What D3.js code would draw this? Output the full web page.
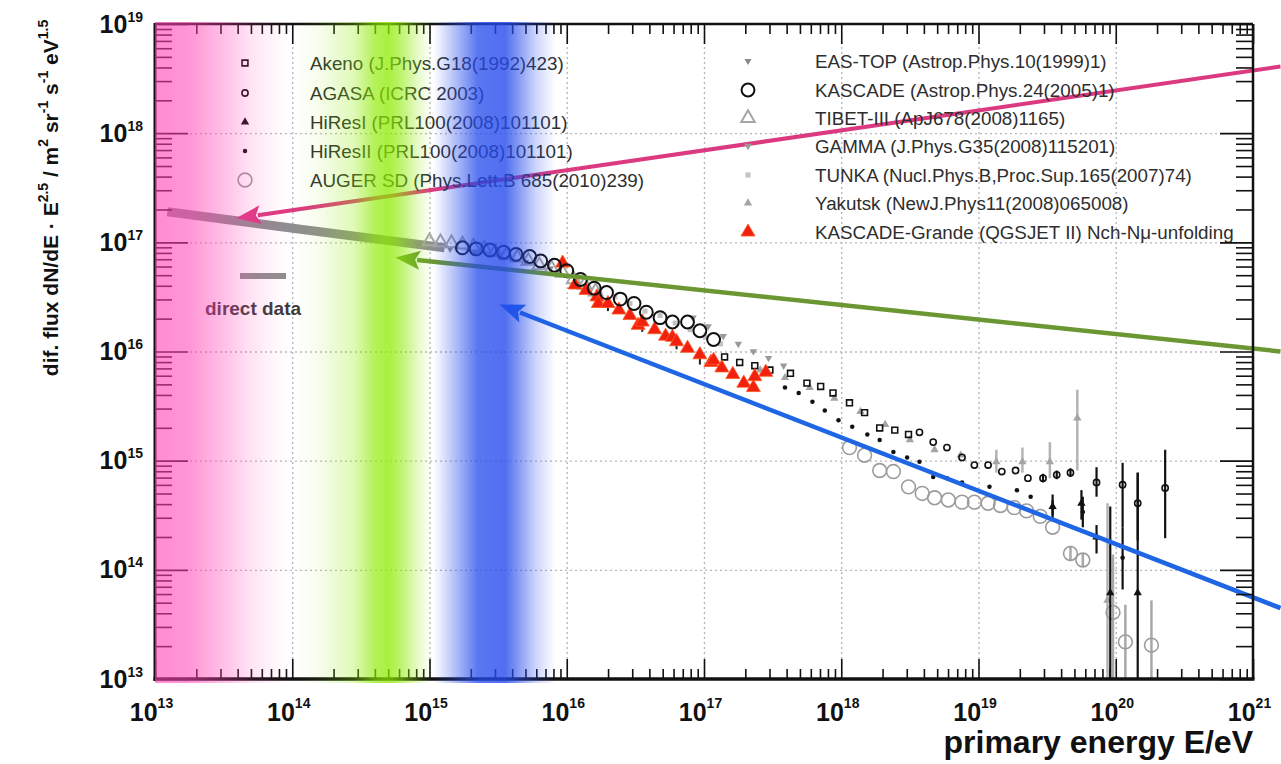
<!DOCTYPE html>
<html>
<head>
<meta charset="utf-8">
<script src="https://cdn.jsdelivr.net/npm/d3@7"></script>
<style>
  html, body { margin: 0; padding: 0; background: #fff; }
  svg { display: block; font-family: "Liberation Sans", Arial, Helvetica, sans-serif; }
</style>
</head>
<body>
<svg id="chart" width="1281" height="764"></svg>
<script>
// ---- axis ticks (decade exponents) ----
const xTickExp = [13, 14, 15, 16, 17, 18, 19, 20, 21];
const yTickExp = [13, 14, 15, 16, 17, 18, 19];

// ---- measurements: log10(E/eV) and log10(flux * E^2.5) ----
const akenoLgE = [17.15, 17.26, 17.37, 17.48, 17.63, 17.75, 17.85, 17.94, 18.06, 18.17, 18.28, 18.39, 18.49];
const akenoLgF = [15.95, 15.90, 15.87, 15.83, 15.80, 15.71, 15.68, 15.62, 15.53, 15.44, 15.30, 15.28, 15.24];

const agasaLgE = [18.57, 18.67, 18.77, 18.88, 18.97, 19.07, 19.17, 19.27, 19.36, 19.47, 19.57, 19.67, 19.86, 20.05, 20.16, 20.36];
const agasaLgF = [15.26, 15.17, 15.12, 15.03, 14.96, 14.96, 14.90, 14.91, 14.84, 14.84, 14.87, 14.89, 14.80, 14.78, 14.61, 14.75];
const agasaBarE  = [19.47, 19.57, 19.67, 19.86, 20.05, 20.16, 20.36];
const agasaBarLo = [14.80, 14.83, 14.85, 14.67, 14.39, 14.27, 14.29];
const agasaBarHi = [14.88, 14.91, 14.93, 14.94, 14.98, 14.89, 15.10];

const hires1LgE = [19.54, 19.75, 19.86, 19.96, 20.16];
const hires1LgF = [14.58, 14.61, 14.30, 13.79, 13.79];
const hires1BarE  = [19.54, 19.75, 19.86, 19.96, 20.16];
const hires1BarLo = [14.46, 14.46, 14.15, 13.0, 13.0];
const hires1BarHi = [14.69, 14.73, 14.41, 14.58, 14.89];

const hires2LgE = [17.59, 17.69, 17.79, 17.88, 17.98, 18.08, 18.19, 18.28, 18.38, 18.48, 18.57, 18.67, 18.77, 18.88, 19.08, 19.28, 19.38, 19.54, 19.76, 20.05];
const hires2LgF = [15.67, 15.62, 15.54, 15.46, 15.37, 15.31, 15.24, 15.19, 15.08, 15.03, 14.99, 14.85, 14.84, 14.80, 14.76, 14.73, 14.67, 14.57, 14.53, 14.11];
const hires2BarE  = [19.54, 19.76, 20.05];
const hires2BarLo = [14.50, 14.39, 13.82];
const hires2BarHi = [14.64, 14.67, 14.39];

const augerLgE = [18.06, 18.17, 18.28, 18.38, 18.49, 18.59, 18.68, 18.78, 18.88, 18.97, 19.07, 19.16, 19.26, 19.35, 19.45, 19.54, 19.67, 19.76, 19.98, 20.07, 20.26];
const augerLgF = [15.12, 15.05, 14.91, 14.90, 14.76, 14.70, 14.66, 14.64, 14.62, 14.62, 14.61, 14.59, 14.57, 14.54, 14.49, 14.39, 14.15, 14.09, 13.61, 13.34, 13.31];
const augerBarE  = [19.67, 19.76, 19.98, 20.07, 20.26];
const augerBarLo = [14.08, 14.03, 13.0, 13.0, 13.0];
const augerBarHi = [14.22, 14.15, 14.14, 13.68, 13.72];

const eastopLgE = [14.73, 14.82, 14.91, 15.15, 15.33, 15.51, 15.70, 15.88];
const eastopLgF = [17.01, 16.99, 16.98, 16.94, 16.91, 16.87, 16.82, 16.76];

const kascadeLgE = [15.24, 15.34, 15.44, 15.54, 15.63, 15.73, 15.81, 15.91, 16.00, 16.10, 16.20, 16.29, 16.39, 16.49, 16.58, 16.68, 16.77, 16.88, 16.97, 17.07];
const kascadeLgF = [16.95, 16.94, 16.93, 16.91, 16.89, 16.87, 16.83, 16.79, 16.74, 16.66, 16.58, 16.54, 16.48, 16.44, 16.36, 16.31, 16.27, 16.27, 16.19, 16.11];

const tibetLgE = [15.00, 15.08, 15.16, 15.24, 15.32, 15.40, 15.48, 15.56, 15.64, 15.72, 15.80, 15.89, 15.97, 16.05, 16.13, 16.21];
const tibetLgF = [17.01, 17.00, 16.99, 16.98, 16.96, 16.94, 16.91, 16.88, 16.86, 16.83, 16.79, 16.76, 16.72, 16.66, 16.61, 16.55];

const gammaLgE = [16.92, 17.03, 17.14, 17.25, 17.36, 17.47, 17.58];
const gammaLgF = [16.31, 16.23, 16.14, 16.07, 16.00, 15.94, 15.87];

const tunkaLgE = [16.24, 16.35, 16.46, 16.57, 16.68, 16.79, 16.90, 17.01, 17.12];
const tunkaLgF = [16.56, 16.50, 16.44, 16.37, 16.33, 16.26, 16.20, 16.13, 16.07];

const yakutskLgE = [17.41, 17.59, 17.77, 17.95, 18.14, 18.32, 18.50, 18.68, 18.87, 19.13, 19.32, 19.52, 19.72, 19.94];
const yakutskLgF = [15.83, 15.76, 15.67, 15.57, 15.45, 15.33, 15.19, 15.10, 15.05, 14.99, 14.99, 14.99, 15.39, 13.72];
const yakutskBarE  = [19.13, 19.32, 19.52, 19.72, 19.94];
const yakutskBarLo = [14.89, 14.89, 14.84, 14.91, 13.0];
const yakutskBarHi = [15.10, 15.12, 15.17, 15.65, 14.61];

const grandeLgE = [15.97, 16.06, 16.14, 16.22, 16.23, 16.30, 16.38, 16.46, 16.52, 16.55, 16.64, 16.72, 16.77, 16.80, 16.88, 16.97, 17.05, 17.07, 17.13, 17.21, 17.29, 17.36, 17.37, 17.45];
const grandeLgF = [16.81, 16.61, 16.56, 16.50, 16.44, 16.44, 16.38, 16.33, 16.24, 16.27, 16.20, 16.14, 16.13, 16.09, 16.03, 15.97, 15.90, 15.92, 15.85, 15.79, 15.71, 15.67, 15.77, 15.81];
const grandeBarE  = [16.30, 16.55, 16.80, 16.97];
const grandeBarLo = [16.37, 16.18, 16.02, 15.88];
const grandeBarHi = [16.47, 16.30, 16.12, 16.00];

// direct (balloon / satellite) measurements, drawn as a broad band
const directLgE = [13.09, 14.06, 15.11];
const directLgF = [17.28, 17.12, 16.95];

// indicative arrows (tail, head)
const pinkArrowLgE  = [21.20, 13.59];
const pinkArrowLgF  = [18.61, 17.22];
const greenArrowLgE = [21.20, 14.75];
const greenArrowLgF = [16.00, 16.86];
const blueArrowLgE  = [21.20, 15.51];
const blueArrowLgF  = [13.65, 16.43];

// energy regions of the knees (log10 E and opacity)
const pinkBandLgE   = [13.0, 13.25, 13.5, 13.7, 13.9, 14.0];
const pinkBandA     = [0.6, 0.55, 0.33, 0.14, 0.03, 0];
const greenBandLgE  = [14.02, 14.2, 14.45, 14.6, 14.7, 14.8, 14.92, 15.02];
const greenBandA    = [0, 0.08, 0.28, 0.65, 0.75, 0.55, 0.2, 0];
const blueBandLgE   = [15.03, 15.12, 15.25, 15.35, 15.55, 15.65, 15.78, 15.92];
const blueBandA     = [0, 0.2, 0.5, 0.75, 0.8, 0.55, 0.22, 0];

// legend texts
const leftLegendKeys  = ["akeno", "agasa", "hires1", "hires2", "auger"];
const leftLegendNames = [
  "Akeno (J.Phys.G18(1992)423)",
  "AGASA (ICRC 2003)",
  "HiResI (PRL100(2008)101101)",
  "HiResII (PRL100(2008)101101)",
  "AUGER SD (Phys.Lett.B 685(2010)239)"
];
const rightLegendKeys  = ["eastop", "kascade", "tibet", "gamma", "tunka", "yakutsk", "grande"];
const rightLegendNames = [
  "EAS-TOP (Astrop.Phys.10(1999)1)",
  "KASCADE (Astrop.Phys.24(2005)1)",
  "TIBET-III (ApJ678(2008)1165)",
  "GAMMA (J.Phys.G35(2008)115201)",
  "TUNKA (Nucl.Phys.B,Proc.Sup.165(2007)74)",
  "Yakutsk (NewJ.Phys11(2008)065008)",
  "KASCADE-Grande (QGSJET II) Nch-N\u03bc-unfolding"
];

// ---------------------------------------------------------------
const X0 = 155, X1 = 1253, YT = 24, YB = 679;
const P = v => Math.pow(10, v);
const x = d3.scaleLog().domain([1e13, 1e21]).range([X0, X1]);
const y = d3.scaleLog().domain([1e13, 1e19]).range([YB, YT]);

const svg = d3.select("#chart");
const defs = svg.append("defs");
defs.append("clipPath").attr("id", "plotClip")
  .append("rect").attr("x", X0).attr("y", YT).attr("width", X1 - X0).attr("height", YB - YT);

// marker styles per data set
const styles = {
  akeno:   { type: d3.symbolSquare,   size: 34,  fill: "none",    stroke: "#111",    sw: 1.6 },
  agasa:   { type: d3.symbolCircle,   size: 30,  fill: "none",    stroke: "#111",    sw: 1.6 },
  hires1:  { type: d3.symbolTriangle, size: 30,  fill: "#111",    stroke: "none",    sw: 0 },
  hires2:  { type: d3.symbolCircle,   size: 16,  fill: "#111",    stroke: "none",    sw: 0 },
  auger:   { type: d3.symbolCircle,   size: 150, fill: "none",    stroke: "#9c9c9c", sw: 1.6 },
  eastop:  { type: d3.symbolTriangle, size: 22,  fill: "#8a8a8a", stroke: "none",    sw: 0, flip: true },
  kascade: { type: d3.symbolCircle,   size: 130, fill: "none",    stroke: "#111",    sw: 2 },
  tibet:   { type: d3.symbolTriangle, size: 80,  fill: "none",    stroke: "#a6a6a6", sw: 2 },
  gamma:   { type: d3.symbolTriangle, size: 24,  fill: "#9a9a9a", stroke: "none",    sw: 0, flip: true },
  tunka:   { type: d3.symbolSquare,   size: 26,  fill: "#c2c2c2", stroke: "none",    sw: 0 },
  yakutsk: { type: d3.symbolTriangle, size: 30,  fill: "#a4a4a4", stroke: "none",    sw: 0 },
  grande:  { type: d3.symbolTriangle, size: 85,  fill: "#f2200f", stroke: "#ff5a20", sw: 0.8 }
};
const barColor = { agasa: "#111", hires1: "#111", hires2: "#111", auger: "#a8a8a8", yakutsk: "#b4b4b4", grande: "#222" };

function drawMarkers(g, key, lgE, lgF) {
  const s = styles[key];
  const sym = d3.symbol().type(s.type).size(s.size);
  g.selectAll(null).data(lgE.map((e, i) => [e, lgF[i]])).join("path")
    .attr("d", sym)
    .attr("transform", d => `translate(${x(P(d[0]))},${y(P(d[1]))})` + (s.flip ? " rotate(180)" : ""))
    .attr("fill", s.fill).attr("stroke", s.stroke).attr("stroke-width", s.sw);
}
function drawBars(g, key, bE, bLo, bHi, w) {
  g.selectAll(null).data(bE.map((e, i) => [e, bLo[i], bHi[i]])).join("line")
    .attr("x1", d => x(P(d[0]))).attr("x2", d => x(P(d[0])))
    .attr("y1", d => y(P(d[1]))).attr("y2", d => y(P(d[2])))
    .attr("stroke", barColor[key]).attr("stroke-width", w);
}

// ---- grid (dotted, decades) ----
const gridX = svg.append("g").attr("transform", `translate(0,${YB})`)
  .call(d3.axisBottom(x).tickValues(xTickExp.slice(1, -1).map(P)).tickSize(-(YB - YT)).tickFormat(""));
const gridY = svg.append("g").attr("transform", `translate(${X0},0)`)
  .call(d3.axisLeft(y).tickValues(yTickExp.slice(1, -1).map(P)).tickSize(-(X1 - X0)).tickFormat(""));
[gridX, gridY].forEach(g => {
  g.select(".domain").remove();
  g.selectAll("line").attr("stroke", "#b8b8b8").attr("stroke-width", 1.4).attr("stroke-dasharray", "2,3");
});

// ---- data ----
const data = svg.append("g").attr("clip-path", "url(#plotClip)");

data.append("path")
  .attr("d", d3.line()(directLgE.map((e, i) => [x(P(e)), y(P(directLgF[i]))])))
  .attr("fill", "none").attr("stroke", "#8e8e8e").attr("stroke-width", 9).attr("stroke-linecap", "butt");

drawMarkers(data, "tunka", tunkaLgE, tunkaLgF);
drawMarkers(data, "gamma", gammaLgE, gammaLgF);
drawMarkers(data, "eastop", eastopLgE, eastopLgF);
drawBars(data, "yakutsk", yakutskBarE, yakutskBarLo, yakutskBarHi, 2.5);
drawMarkers(data, "yakutsk", yakutskLgE, yakutskLgF);
drawMarkers(data, "tibet", tibetLgE, tibetLgF);
drawBars(data, "auger", augerBarE, augerBarLo, augerBarHi, 2.5);
drawMarkers(data, "auger", augerLgE, augerLgF);
drawMarkers(data, "akeno", akenoLgE, akenoLgF);
drawBars(data, "agasa", agasaBarE, agasaBarLo, agasaBarHi, 2.2);
drawMarkers(data, "agasa", agasaLgE, agasaLgF);
drawBars(data, "hires2", hires2BarE, hires2BarLo, hires2BarHi, 2.2);
drawMarkers(data, "hires2", hires2LgE, hires2LgF);
drawBars(data, "hires1", hires1BarE, hires1BarLo, hires1BarHi, 2.2);
drawMarkers(data, "hires1", hires1LgE, hires1LgF);
drawBars(data, "grande", grandeBarE, grandeBarLo, grandeBarHi, 2);
drawMarkers(data, "grande", grandeLgE, grandeLgF);
drawMarkers(data, "kascade", kascadeLgE, kascadeLgF);

// ---- arrows ----
function drawArrow(lgE, lgF, color, width) {
  const p0 = [x(P(lgE[0])), y(P(lgF[0]))];
  const p1 = [x(P(lgE[1])), y(P(lgF[1]))];
  const dx = p1[0] - p0[0], dy = p1[1] - p0[1];
  const len = Math.hypot(dx, dy), ux = dx / len, uy = dy / len;
  const L = 25, hw = 9.5;
  const bx = p1[0] - ux * L, by = p1[1] - uy * L;
  const g = svg.append("g");
  g.append("line").attr("x1", p0[0]).attr("y1", p0[1]).attr("x2", bx + ux * 3).attr("y2", by + uy * 3)
    .attr("stroke", color).attr("stroke-width", width);
  g.append("path")
    .attr("d", `M${p1[0]},${p1[1]}L${bx - uy * hw},${by + ux * hw}L${bx + ux * 5},${by + uy * 5}L${bx + uy * hw},${by - ux * hw}Z`)
    .attr("fill", color);
}
drawArrow(pinkArrowLgE, pinkArrowLgF, "#dc3a80", 4);
drawArrow(greenArrowLgE, greenArrowLgF, "#6b9733", 4.5);
drawArrow(blueArrowLgE, blueArrowLgF, "#1f66e4", 4.5);

// ---- legends ----
function legend(keys, names, mx, tx, rowsY) {
  const g = svg.append("g");
  keys.forEach((k, i) => {
    const s = styles[k];
    g.append("path").attr("d", d3.symbol().type(s.type).size(s.size)())
      .attr("transform", `translate(${mx},${rowsY[i]})` + (s.flip ? " rotate(180)" : ""))
      .attr("fill", s.fill).attr("stroke", s.stroke).attr("stroke-width", s.sw);
    g.append("text").attr("x", tx).attr("y", rowsY[i] + 7)
      .attr("font-size", 18.8).attr("fill", "#2e2e2e").text(names[i]);
  });
}
legend(leftLegendKeys, leftLegendNames, 245, 310, [63, 93, 122, 151, 180]);
legend(rightLegendKeys, rightLegendNames, 748, 815, [61, 90, 118, 146, 175, 203, 232]);

svg.append("line").attr("x1", 240).attr("x2", 286).attr("y1", 276).attr("y2", 276)
  .attr("stroke", "#8e8e8e").attr("stroke-width", 6);
svg.append("text").attr("x", 205).attr("y", 315).attr("font-size", 19).attr("font-weight", "bold")
  .attr("fill", "#3a3a3a").text("direct data");

// ---- frame and ticks ----
const decades = d3.range(13, 21);
const minorX = [], minorY = [];
decades.forEach(d => d3.range(2, 10).forEach(m => { minorX.push(m * P(d)); if (d < 19) minorY.push(m * P(d)); }));
const majorX = xTickExp.map(P), majorY = yTickExp.map(P);

const frame = svg.append("g");
function tickAxis(axis, tr) {
  const g = frame.append("g").attr("transform", tr).call(axis);
  g.select(".domain").remove();
  g.selectAll("line").attr("stroke", "#111").attr("stroke-width", 1.6);
}
tickAxis(d3.axisBottom(x).tickValues(minorX).tickSize(-10).tickFormat(""), `translate(0,${YB})`);
tickAxis(d3.axisBottom(x).tickValues(majorX).tickSize(-20).tickFormat(""), `translate(0,${YB})`);
tickAxis(d3.axisTop(x).tickValues(minorX).tickSize(-10).tickFormat(""), `translate(0,${YT})`);
tickAxis(d3.axisTop(x).tickValues(majorX).tickSize(-20).tickFormat(""), `translate(0,${YT})`);
tickAxis(d3.axisLeft(y).tickValues(minorY).tickSize(-17).tickFormat(""), `translate(${X0},0)`);
tickAxis(d3.axisLeft(y).tickValues(majorY).tickSize(-33).tickFormat(""), `translate(${X0},0)`);
tickAxis(d3.axisRight(y).tickValues(minorY).tickSize(-17).tickFormat(""), `translate(${X1},0)`);
tickAxis(d3.axisRight(y).tickValues(majorY).tickSize(-33).tickFormat(""), `translate(${X1},0)`);

frame.append("line").attr("x1", X0).attr("x2", X1).attr("y1", YT).attr("y2", YT).attr("stroke", "#111").attr("stroke-width", 2.5);
frame.append("line").attr("x1", X1).attr("x2", X1).attr("y1", YT).attr("y2", YB).attr("stroke", "#111").attr("stroke-width", 2.5);
frame.append("line").attr("x1", X0).attr("x2", X0).attr("y1", YT - 1).attr("y2", YB + 2).attr("stroke", "#111").attr("stroke-width", 3);
frame.append("line").attr("x1", X0 - 1.5).attr("x2", X1 + 1.5).attr("y1", YB).attr("y2", YB).attr("stroke", "#111").attr("stroke-width", 3.5);

// ---- colored energy regions (translucent overlay) ----
function band(id, lgE, alpha, rgb) {
  const xa = x(P(lgE[0])), xb = x(P(lgE[lgE.length - 1]));
  const grad = defs.append("linearGradient").attr("id", id)
    .attr("gradientUnits", "userSpaceOnUse").attr("x1", xa).attr("x2", xb).attr("y1", 0).attr("y2", 0);
  lgE.forEach((e, i) => {
    grad.append("stop").attr("offset", (x(P(e)) - xa) / (xb - xa))
      .attr("stop-color", rgb).attr("stop-opacity", alpha[i]);
  });
  svg.append("rect").attr("x", xa).attr("y", YT - 2).attr("width", xb - xa).attr("height", YB - YT + 6)
    .attr("fill", `url(#${id})`);
}
band("pinkBand", pinkBandLgE, pinkBandA, "rgb(255,63,180)");
band("greenBand", greenBandLgE, greenBandA, "rgb(140,235,0)");
band("blueBand", blueBandLgE, blueBandA, "rgb(36,74,236)");

// ---- tick labels ----
const yLab = svg.append("g").attr("transform", `translate(${X0},0)`)
  .call(d3.axisLeft(y).tickValues(majorY).tickSize(0).tickPadding(12).tickFormat(() => "10"));
yLab.select(".domain").remove();
yLab.selectAll("text").attr("font-size", 25).attr("font-weight", "bold").attr("fill", "#111")
  .attr("font-family", "'Liberation Sans', Arial, sans-serif")
  .each(function (d) {
    d3.select(this).append("tspan").attr("font-size", 14).attr("dy", -11).text(Math.round(Math.log10(d)));
  });

const xLab = svg.append("g").attr("transform", `translate(0,${YB})`)
  .call(d3.axisBottom(x).tickValues(majorX).tickSize(0).tickPadding(24).tickFormat(() => "10"));
xLab.select(".domain").remove();
xLab.selectAll("text").attr("font-size", 25).attr("font-weight", "bold").attr("fill", "#111")
  .attr("font-family", "'Liberation Sans', Arial, sans-serif").attr("dx", -4)
  .each(function (d) {
    d3.select(this).append("tspan").attr("font-size", 14).attr("dy", "-0.9em").text(Math.round(Math.log10(d)));
  });

// ---- axis titles ----
svg.append("text").attr("x", X1).attr("y", 753).attr("text-anchor", "end")
  .attr("font-size", 32).attr("font-weight", "bold").attr("fill", "#111").text("primary energy E/eV");

const yTitle = svg.append("text").attr("transform", "translate(58,198) rotate(-90)")
  .attr("text-anchor", "middle").attr("font-size", 21).attr("font-weight", "bold").attr("fill", "#111");
const yTitleParts = [["dif. flux dN/dE \u00b7 E", false], ["2.5", true], [" / m", false], ["2", true],
  [" sr", false], ["-1", true], [" s", false], ["-1", true], [" eV", false], ["1.5", true]];
let wasSup = false;
yTitleParts.forEach(([t, isSup]) => {
  const ts = yTitle.append("tspan").text(t);
  if (isSup) { ts.attr("font-size", 14).attr("dy", -10); wasSup = true; }
  else { if (wasSup) ts.attr("dy", 10); wasSup = false; }
});
</script>
</body>
</html>
